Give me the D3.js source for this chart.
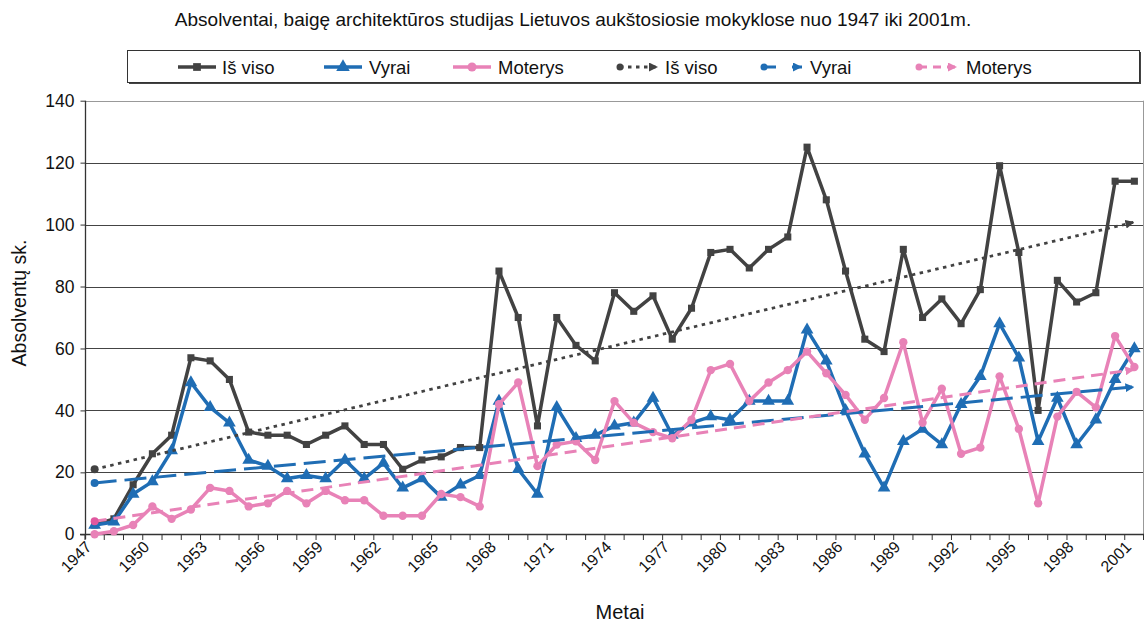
<!DOCTYPE html>
<html><head><meta charset="utf-8">
<script src="https://cdn.jsdelivr.net/npm/d3@7"></script>
<style>body{margin:0;background:#fff} svg{display:block} text{font-family:Arial,"Liberation Sans",sans-serif;fill:#111}</style>
</head><body><svg id="c" width="1145" height="622"></svg>
<script>
const years = [1947,1948,1949,1950,1951,1952,1953,1954,1955,1956,1957,1958,1959,1960,1961,1962,1963,1964,1965,1966,1967,1968,1969,1970,1971,1972,1973,1974,1975,1976,1977,1978,1979,1980,1981,1982,1983,1984,1985,1986,1987,1988,1989,1990,1991,1992,1993,1994,1995,1996,1997,1998,1999,2000,2001];
const tickYears = [1947,1950,1953,1956,1959,1962,1965,1968,1971,1974,1977,1980,1983,1986,1989,1992,1995,1998,2001];
const yTicks = [0,20,40,60,80,100,120,140];
const total   = [3,5,16,26,32,57,56,50,33,32, 32,29,32,35,29,29,21,24,25,28, 28,85,70,35,70,61,56,78,72,77, 63,73,91,92,86,92,96,125,108,85, 63,59,92,70,76,68,79,119,91,40, 82,75,78,114,114];
const vyrai   = [3,4,13,17,27,49,41,36,24,22, 18,19,18,24,18,23,15,18,12,16, 19,43,21,13,41,31,32,35,36,44, 32,36,38,37,43,43,43,66,56,40, 26,15,30,34,29,42,51,68,57,30, 44,29,37,50,60];
const moterys = [0,1,3,9,5,8,15,14,9,10, 14,10,14,11,11,6,6,6,13,12, 9,42,49,22,29,30,24,43,36,33, 31,37,53,55,43,49,53,59,52,45, 37,44,62,36,47,26,28,51,34,10, 38,46,41,64,54];
const seriesNames = ["Iš viso","Vyrai","Moterys"];
const trendStart = [21, 16.6, 4.2];
const trendEnd = [100.8, 47.6, 53.2];
const titleText = "Absolventai, baigę architektūros studijas Lietuvos aukštosiosie mokyklose nuo 1947 iki 2001m.";
const xTitle = "Metai";
const yTitle = "Absolventų sk.";

const colors = ["#424242","#1f6db4","#e882b7"];
const dashes = ["3.5,4.5","22,8","12,7"];
const svg = d3.select("#c");
const x = d3.scaleBand().domain(years).range([85,1144]);
const y = d3.scaleLinear().domain([0,140]).range([534.3,100.7]);
const cx = d => x(d) + x.bandwidth()/2;

// defs
const defs = svg.append("defs");
colors.forEach((c,i)=>{
  defs.append("marker").attr("id","arr"+i).attr("viewBox","0 0 10 10").attr("refX",10).attr("refY",5)
    .attr("markerWidth",9).attr("markerHeight",9).attr("markerUnits","userSpaceOnUse").attr("orient","auto")
    .append("path").attr("d","M0,0 L10,5 L0,10 z").attr("fill",c);
});

// grid
svg.append("g").selectAll("line").data(yTicks.filter(t=>t>0)).join("line")
  .attr("x1",85).attr("x2",1144).attr("y1",d=>Math.round(y(d))+0.5).attr("y2",d=>Math.round(y(d))+0.5)
  .attr("stroke",d=>d===140?"#999":"#444").attr("stroke-width",1);
svg.append("line").attr("x1",1143.5).attr("x2",1143.5).attr("y1",y(140)).attr("y2",y(0)).attr("stroke","#999");

// y axis
const ya = svg.append("g").attr("transform","translate(85.5,0)")
  .call(d3.axisLeft(y).tickValues(yTicks).tickSize(5).tickPadding(6));
ya.select(".domain").remove();
ya.selectAll(".tick line").attr("stroke","#333");
ya.selectAll("text").attr("font-size",17.5).attr("font-family","Arial, Liberation Sans, sans-serif").attr("fill","#111");
svg.append("line").attr("x1",85.5).attr("x2",85.5).attr("y1",y(140)).attr("y2",y(0)+5).attr("stroke","#333").attr("stroke-width",1.3);

// x axis
svg.append("line").attr("x1",80).attr("x2",1144).attr("y1",534.5).attr("y2",534.5).attr("stroke","#333").attr("stroke-width",1.3);
svg.append("g").selectAll("line").data(years).join("line")
  .attr("x1",d=>x(d)).attr("x2",d=>x(d)).attr("y1",534).attr("y2",540).attr("stroke","#333");
svg.append("line").attr("x1",1143.5).attr("x2",1143.5).attr("y1",534).attr("y2",540).attr("stroke","#333");
svg.append("g").selectAll("text").data(tickYears).join("text")
  .attr("transform",d=>`translate(${cx(d)-2},548) rotate(-45)`)
  .attr("text-anchor","end").attr("font-size",16).text(d=>d);

// titles
svg.append("text").attr("x",573).attr("y",26).attr("text-anchor","middle").attr("font-size",19).text(titleText);
svg.append("text").attr("x",620).attr("y",619).attr("text-anchor","middle").attr("font-size",20).text(xTitle);
svg.append("text").attr("transform","translate(26,303) rotate(-90)").attr("text-anchor","middle").attr("font-size",19.5).text(yTitle);

// series
const data = [total, vyrai, moterys];
const line = d3.line().x((d,i)=>cx(years[i])).y(d=>y(d));
const sym = [d3.symbolSquare, d3.symbolTriangle, d3.symbolCircle];
const symSize = [50, 70, 55];
data.forEach((arr,k)=>{
  svg.append("path").datum(arr).attr("d",line).attr("fill","none").attr("stroke",colors[k])
    .attr("stroke-width",3.5).attr("stroke-linejoin","round");
  svg.append("g").selectAll("path").data(arr).join("path")
    .attr("transform",(d,i)=>`translate(${cx(years[i])},${y(d)})`)
    .attr("d",d3.symbol().type(sym[k]).size(symSize[k])).attr("fill",colors[k]);
});

// trends
trendStart.forEach((s,k)=>{
  const x1 = cx(years[0]), x2 = cx(years[years.length-1]);
  svg.append("line").attr("x1",x1).attr("y1",y(s)).attr("x2",x2).attr("y2",y(trendEnd[k]))
    .attr("stroke",colors[k]).attr("stroke-width",k===0?2.8:3).attr("stroke-dasharray",dashes[k])
    .attr("marker-end",`url(#arr${k})`);
  svg.append("circle").attr("cx",x1).attr("cy",y(s)).attr("r",4).attr("fill",k===2?"#e0589f":colors[k]);
});

// legend
const lg = svg.append("g");
lg.append("rect").attr("x",129).attr("y",52).attr("width",1012).attr("height",32).attr("fill","#444");
lg.append("rect").attr("x",127.5).attr("y",50.5).attr("width",1012).attr("height",32).attr("fill","#fff").attr("stroke","#333");
const legItems = [
  {k:0, trend:false, lx:178, tx:222},
  {k:1, trend:false, lx:324, tx:369},
  {k:2, trend:false, lx:453, tx:498},
  {k:0, trend:true, lx:618, tx:665},
  {k:1, trend:true, lx:762, tx:810},
  {k:2, trend:true, lx:917, tx:966}
];
const ly = 67;
legItems.forEach(it=>{
  const c = colors[it.k];
  if(!it.trend){
    lg.append("line").attr("x1",it.lx).attr("x2",it.lx+38).attr("y1",ly).attr("y2",ly).attr("stroke",c).attr("stroke-width",3.5);
    lg.append("path").attr("transform",`translate(${it.lx+19},${ly})`).attr("d",d3.symbol().type(sym[it.k]).size(symSize[it.k]+10)).attr("fill",c);
  } else {
    lg.append("line").attr("x1",it.lx+2).attr("x2",it.lx+40).attr("y1",ly).attr("y2",ly).attr("stroke",c)
      .attr("stroke-width",it.k===0?2.8:3).attr("stroke-dasharray",it.k===0?"3.5,4.5":(it.k===1?"12,16":"8,6"))
      .attr("marker-end",`url(#arr${it.k})`);
    lg.append("circle").attr("cx",it.lx+2).attr("cy",ly).attr("r",3.5).attr("fill",c);
  }
  lg.append("text").attr("x",it.tx).attr("y",ly+6.5).attr("font-size",18.5).text(seriesNames[it.k]);
});
</script></body></html>
